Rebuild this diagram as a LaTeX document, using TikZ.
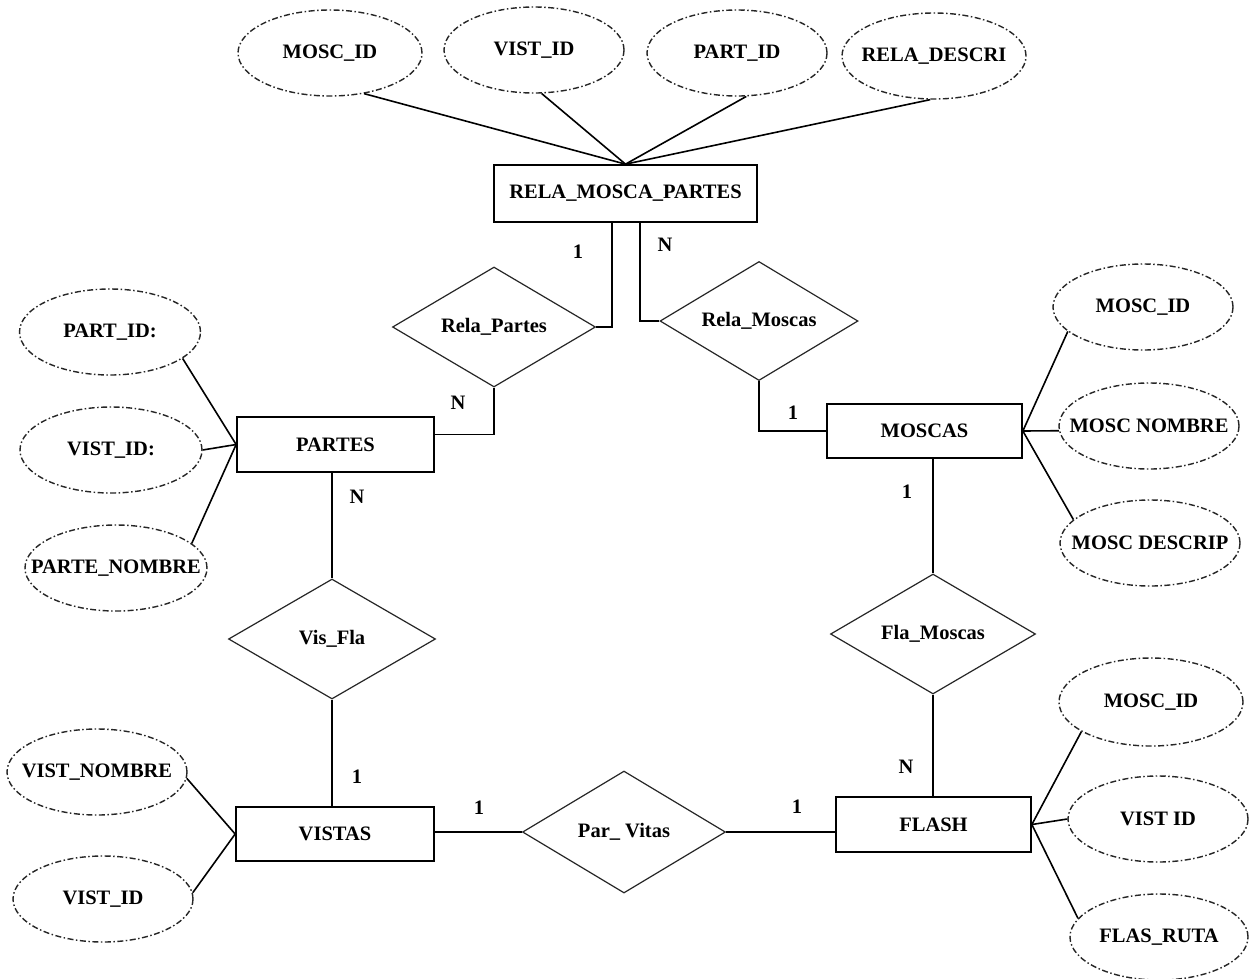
\documentclass[tikz,border=0pt]{standalone}
\usepackage{fontspec}
\setmainfont{Liberation Serif}
\usetikzlibrary{shapes.geometric}
% attribute names are centred without widening their ellipse
\newcommand\attrname[1]{\hbox to 0pt{\hss#1\hss}}
\begin{document}
\begin{tikzpicture}[x=1pt,y=-1pt,
  every node/.style={font=\fontsize{20.5}{24}\selectfont\bfseries},
  entity/.style={draw, line width=1.7pt, rectangle, inner sep=0pt,
    minimum width=#1, minimum height=55pt},
  entity/.default=197pt,
  attr/.style={ellipse, draw=black!85, line width=1.4pt,
    dash pattern=on 6pt off 2.5pt on 1.5pt off 2.5pt,
    inner sep=0pt, minimum width=#1, minimum height=86pt},
  attr/.default=182pt,
  rel/.style={diamond, draw=black!85, line width=1.2pt, aspect=1.7,
    inner sep=0pt, minimum width=#1, minimum height=120pt},
  rel/.default=204pt,
  card/.style={inner sep=0pt},
  link/.style={line width=1.6pt}
]
\useasboundingbox[fill=white] (0,0) rectangle (1252,978);

% entities
\node[entity=263pt, minimum height=57pt] (rmp) at (625.5,193.5) {RELA\_MOSCA\_PARTES};
\node[entity] (partes) at (335.5,444.5) {PARTES};
\node[entity=195pt, minimum height=54pt] (moscas) at (924.5,431) {MOSCAS};
\node[entity=198pt, minimum height=54pt] (vistas) at (335,834) {VISTAS};
\node[entity=195pt] (flash) at (933.5,824.5) {FLASH};

% relationships
\node[rel=203pt] (rp) at (494,327) {Rela\_Partes};
\node[rel=198pt, minimum height=119pt] (rm) at (759,321) {Rela\_Moscas};
\node[rel=207pt] (vf) at (332,639) {Vis\_Fla};
\node[rel=205pt] (fm) at (933,634) {Fla\_Moscas};
\node[rel=203pt, minimum height=122pt] (pv) at (624,832) {Par\_ Vitas};

% attributes of RELA_MOSCA_PARTES
\node[attr=184pt] (ta1) at (330,53) {\attrname{MOSC\_ID}};
\node[attr=180pt] (ta2) at (534,50) {\attrname{VIST\_ID}};
\node[attr=180pt] (ta3) at (737,53) {\attrname{PART\_ID}};
\node[attr=184pt] (ta4) at (934,56) {\attrname{RELA\_DESCRI}};

% attributes of PARTES
\node[attr=181pt] (pa1) at (110,332) {\attrname{PART\_ID:}};
\node[attr] (pa2) at (111,450) {\attrname{VIST\_ID:}};
\node[attr] (pa3) at (116,568) {\attrname{PARTE\_NOMBRE}};

% attributes of VISTAS
\node[attr=180pt] (va1) at (97,772) {\attrname{VIST\_NOMBRE}};
\node[attr=180pt] (va2) at (103,899) {\attrname{VIST\_ID}};

% attributes of MOSCAS
\node[attr=180pt] (ma1) at (1143,307) {\attrname{MOSC\_ID}};
\node[attr=180pt] (ma2) at (1149,426) {\attrname{MOSC NOMBRE}};
\node[attr=180pt] (ma3) at (1150,543) {\attrname{MOSC DESCRIP}};

% attributes of FLASH
\node[attr=184pt, minimum height=88pt] (fa1) at (1151,702) {\attrname{MOSC\_ID}};
\node[attr=180pt] (fa2) at (1158,819) {\attrname{VIST ID}};
\node[attr=178pt] (fa3) at (1159,937) {\attrname{FLAS\_RUTA}};

% attribute links
\draw[link] (ta1.-50) -- (rmp.north);
\draw[link] (ta2.-80) -- (rmp.north);
\draw[link] (ta3.-78) -- (rmp.north);
\draw[link] (ta4.-95) -- (rmp.north);
\draw[link] (pa1.-20) -- (partes.west);
\draw[link] (pa2.east) -- (partes.west);
\draw[link] (pa3.18) -- (partes.west);
\draw[link] (va1.-4) -- (vistas.west);
\draw[link] (va2.4) -- (vistas.west);
\draw[link] (ma1.-162) -- (moscas.east);
\draw[link] (ma2.183) -- (moscas.east);
\draw[link] (ma3.163) -- (moscas.east);
\draw[link] (fa1.203) -- (flash.east);
\draw[link] (fa2.west) -- (flash.east);
\draw[link] (fa3.167) -- (flash.east);

% relationship links
\draw[link] ([xshift=-13.5pt]rmp.south) |- (rp.east);
\draw[link] ([xshift=14.5pt]rmp.south) |- (rm.west);
\draw[link] (rp.south) |- ([yshift=10pt]partes.east);
\draw[link] (rm.south) |- (moscas.west);
\draw[link] (vf.north |- partes.south) -- (vf.north);
\draw[link] (vf.south) -- (vf.south |- vistas.north);
\draw[link] (fm.north |- moscas.south) -- (fm.north);
\draw[link] (fm.south) -- (fm.south |- flash.north);
\draw[link] (vistas.east |- pv.west) -- (pv.west);
\draw[link] (pv.east) -- (pv.east -| flash.west);

% cardinalities
\node[card] (c1) at (578,252) {1};
\node[card] (c2) at (665,245) {N};
\node[card] (c3) at (458,403) {N};
\node[card] (c4) at (793,413) {1};
\node[card] (c5) at (357,497) {N};
\node[card] (c6) at (907,492) {1};
\node[card] (c7) at (357,777) {1};
\node[card] (c8) at (906,767) {N};
\node[card] (c9) at (479,808) {1};
\node[card] (c10) at (797,807) {1};
\end{tikzpicture}
\end{document}
